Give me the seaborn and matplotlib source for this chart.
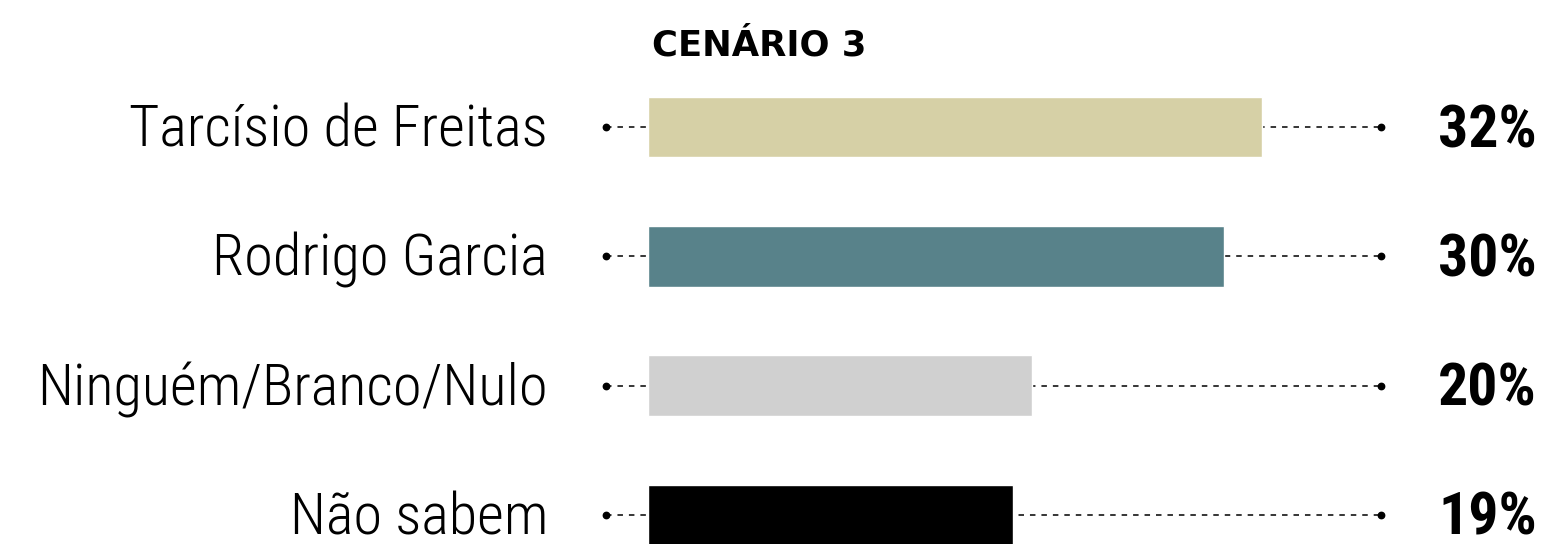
import matplotlib
matplotlib.use("Agg")
import matplotlib.pyplot as plt
import seaborn as sns
import pandas as pd
from matplotlib import font_manager

categories = ["Tarcísio de Freitas", "Rodrigo Garcia", "Ninguém/Branco/Nulo", "Não sabem"]
values = [32, 30, 20, 19]
value_labels = ["32%", "30%", "20%", "19%"]
colors = ["#D6D0A6", "#58828A", "#D0D0D0", "#000000"]
title = "CENÁRIO 3"

sns.set_theme(style="white")
names = sorted({f.name for f in font_manager.fontManager.ttflist})
cond = [n for n in ["Roboto Condensed", "Liberation Sans Narrow", "DejaVu Sans Condensed"] if n in names]
label_family = cond + ["DejaVu Sans"]
plt.rcParams["font.family"] = ["DejaVu Sans"]

df = pd.DataFrame({"cat": categories, "val": values})

W, H, DPI = 1547, 544, 100
fig = plt.figure(figsize=(W / DPI, H / DPI), dpi=DPI)
ax = fig.add_axes([0, 0, 1, 1])

px_per = 614 / 32.0
x0 = 648
step = 129.3
y0 = 127

line_l = (606 - x0) / px_per
line_r = (1381 - x0) / px_per
for i in range(len(categories)):
    ax.plot([line_l, line_r], [i, i], color="black", lw=1.1,
            linestyle=(0, (3.6, 3.9)), zorder=1)
    ax.plot([line_l, line_r], [i, i], linestyle="none", marker="o",
            markersize=4.6, color="black", zorder=1)

sns.barplot(data=df, x="val", y="cat", hue="cat", palette=colors, legend=False,
            width=0.47, orient="h", ax=ax, saturation=1, zorder=2)
ax.set_xlim(-x0 / px_per, (W - x0) / px_per)
ax.set_ylim((H - y0) / step, -y0 / step)

lab_x = (548 - x0) / px_per
pct_x = (1537 - x0) / px_per
lab_off = 19.5 / step
pct_off = 20.0 / step
for i, (c, v) in enumerate(zip(categories, value_labels)):
    ax.text(lab_x, i + lab_off, c, ha="right", va="baseline", fontsize=42,
            family=label_family, fontweight="light", color="black")
    ax.text(pct_x, i + pct_off, v, ha="right", va="baseline", fontsize=43,
            family=label_family, fontweight="heavy", color="black")

ax.text((652 - x0) / px_per, (55 - y0) / step, title, ha="left", va="baseline",
        fontsize=25.5, fontweight="bold", family=["DejaVu Sans"], color="black")

ax.set_axis_off()
fig.savefig("out.png", dpi=DPI, facecolor="white")
